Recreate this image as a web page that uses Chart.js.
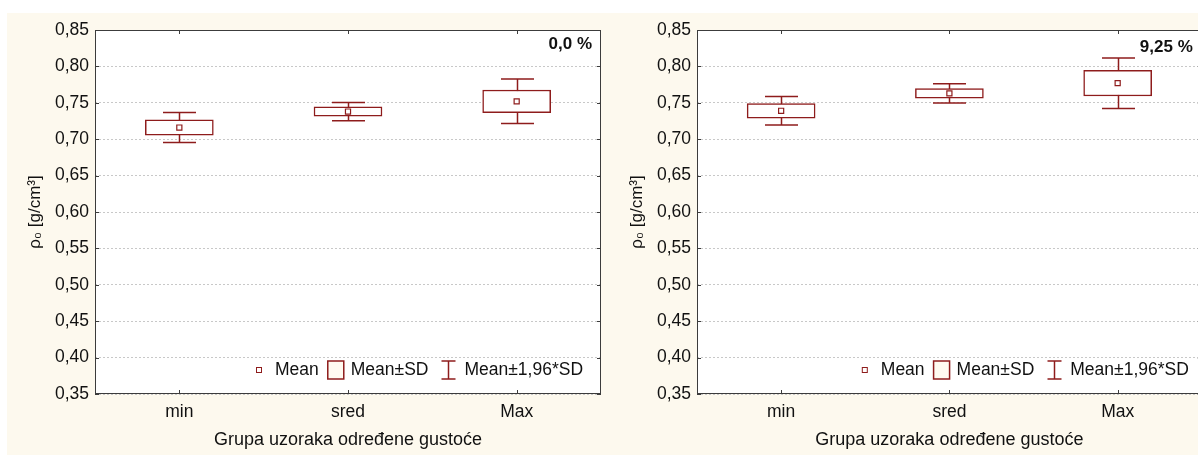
<!DOCTYPE html>
<html>
<head>
<meta charset="utf-8">
<script src="https://cdn.jsdelivr.net/npm/chart.js@4.4.1/dist/chart.umd.min.js"></script>
<style>
html,body{margin:0;padding:0;background:#ffffff;width:1198px;height:455px;overflow:hidden;position:relative;}
#bg{position:absolute;left:7px;top:13px;width:1191px;height:442px;background:#fdf9ee;}
.wrap{position:absolute;top:13px;height:442px;width:600px;}
#w1{left:7px;}
#w2{left:607px;}
canvas{display:block;}
</style>
</head>
<body>
<div id="bg"></div>
<div class="wrap" id="w1"><canvas id="c1" width="600" height="442"></canvas></div>
<div class="wrap" id="w2"><canvas id="c2" width="600" height="442"></canvas></div>
<script>
// ---- data ----
const categories = ['min', 'sred', 'Max'];
const meanLeft = [0.716, 0.738, 0.752];
const sdLeft = [0.0105, 0.0064, 0.0156];
const meanRight = [0.739, 0.763, 0.777];
const sdRight = [0.0100, 0.0067, 0.0177];
const annotationLeft = '0,0 %';
const annotationRight = '9,25 %';
const legendLabels = ['Mean', 'Mean±SD', 'Mean±1,96*SD'];
const yMin = 0.35, yMax = 0.85, yStep = 0.05;
const zFactor = 1.96;
const xTitle = 'Grupa uzoraka određene gustoće';
const yTitle = 'ρ₀ [g/cm³]';

const RED = '#8e1c1c';
const FONT = '"Liberation Sans", Arial, sans-serif';
Chart.defaults.font.family = FONT;
Chart.defaults.color = '#111111';

const decor = {
  id: 'decor',
  beforeDraw(chart) {
    const {ctx, chartArea: ca} = chart;
    ctx.save();
    ctx.fillStyle = '#ffffff';
    ctx.fillRect(ca.left, ca.top, ca.right - ca.left, ca.bottom - ca.top);
    ctx.restore();
  },
  beforeDatasetsDraw(chart, args, opts) {
    const {ctx, scales: {x, y}} = chart;
    ctx.save();
    ctx.strokeStyle = RED;
    ctx.lineWidth = 1.5;
    opts.mean.forEach((m, i) => {
      const px = Math.round(x.getPixelForValue(i)) + 0.5;
      const hi = y.getPixelForValue(m + zFactor * opts.sd[i]);
      const lo = y.getPixelForValue(m - zFactor * opts.sd[i]);
      ctx.beginPath();
      ctx.moveTo(px, hi); ctx.lineTo(px, lo);
      ctx.moveTo(px - 16.5, hi); ctx.lineTo(px + 16.5, hi);
      ctx.moveTo(px - 16.5, lo); ctx.lineTo(px + 16.5, lo);
      ctx.stroke();
    });
    ctx.restore();
  },
  afterDraw(chart, args, opts) {
    const {ctx, chartArea: ca, scales: {x, y}} = chart;
    ctx.save();
    // frame
    ctx.strokeStyle = '#3c3c3c';
    ctx.lineWidth = 1;
    ctx.strokeRect(Math.round(ca.left) + 0.5, Math.round(ca.top) + 0.5,
                   Math.round(ca.right - ca.left) - 1, Math.round(ca.bottom - ca.top) - 1);
    // inner ticks
    ctx.beginPath();
    y.ticks.forEach(t => {
      const py = Math.round(y.getPixelForValue(t.value)) + 0.5;
      ctx.moveTo(ca.left, py); ctx.lineTo(ca.left + 4, py);
      ctx.moveTo(ca.right, py); ctx.lineTo(ca.right - 4, py);
    });
    categories.forEach((c, i) => {
      const px = Math.round(x.getPixelForValue(i)) + 0.5;
      ctx.moveTo(px, ca.bottom); ctx.lineTo(px, ca.bottom - 4);
      ctx.moveTo(px, ca.top); ctx.lineTo(px, ca.top + 4);
    });
    ctx.stroke();

    // annotation
    ctx.fillStyle = '#111111';
    ctx.font = 'bold 17px ' + FONT;
    ctx.textAlign = 'right';
    ctx.textBaseline = 'middle';
    ctx.fillText(opts.annotation, ca.right - 9, ca.top + opts.annY);

    // legend
    const lx = ca.right - opts.legendOffset;
    const ly = ca.bottom - 24;
    ctx.font = '17.5px ' + FONT;
    ctx.textAlign = 'left';
    ctx.strokeStyle = RED;
    ctx.lineWidth = 1;
    ctx.fillStyle = '#ffffff';
    ctx.fillRect(lx - 2.5, ly - 2.5, 5, 5);
    ctx.strokeRect(lx - 2.5, ly - 2.5, 5, 5);
    let tx = lx + 16;
    ctx.fillStyle = '#111111';
    ctx.fillText(legendLabels[0], tx, ly);
    tx += ctx.measureText(legendLabels[0]).width + 9;
    ctx.fillStyle = '#fffaf0';
    ctx.lineWidth = 1.5;
    ctx.fillRect(tx, ly - 9, 16, 18);
    ctx.strokeRect(tx, ly - 9, 16, 18);
    tx += 16 + 7;
    ctx.fillStyle = '#111111';
    ctx.fillText(legendLabels[1], tx, ly);
    tx += ctx.measureText(legendLabels[1]).width + 13;
    const wx = Math.round(tx + 7) + 0.5;
    ctx.beginPath();
    ctx.moveTo(wx, ly - 9); ctx.lineTo(wx, ly + 9);
    ctx.moveTo(wx - 7, ly - 9); ctx.lineTo(wx + 7, ly - 9);
    ctx.moveTo(wx - 7, ly + 9); ctx.lineTo(wx + 7, ly + 9);
    ctx.stroke();
    tx += 14 + 9;
    ctx.fillText(legendLabels[2], tx, ly);
    ctx.restore();
  }
};

function makeChart(id, mean, sd, cfg) {
  return new Chart(document.getElementById(id), {
    data: {
      labels: categories,
      datasets: [
        {
          type: 'bar',
          data: mean.map((m, i) => [m - sd[i], m + sd[i]]),
          backgroundColor: '#ffffff',
          borderColor: RED,
          borderWidth: 1.5,
          borderSkipped: false,
          barThickness: 68,
          order: 2
        },
        {
          type: 'line',
          data: mean,
          showLine: false,
          pointStyle: 'rect',
          pointRadius: 3.6,
          pointBorderWidth: 1.2,
          pointBackgroundColor: '#ffffff',
          pointBorderColor: RED,
          order: 1
        }
      ]
    },
    options: {
      responsive: false,
      animation: false,
      events: [],
      layout: {padding: {top: 17, right: cfg.padRight, left: 0, bottom: 0}},
      plugins: {
        legend: {display: false},
        tooltip: {enabled: false},
        decor: {mean: mean, sd: sd, annotation: cfg.annotation, annY: cfg.annY, legendOffset: cfg.legendOffset}
      },
      scales: {
        x: {
          type: 'category',
          offset: true,
          grid: {display: false, drawTicks: false},
          border: {display: false},
          ticks: {padding: 8, font: {size: 17.5}, color: '#111111'},
          title: {display: true, text: xTitle, font: {size: 18}, color: '#111111', padding: {top: 0, bottom: 4}},
          afterFit: s => { s.height = 61; }
        },
        y: {
          min: yMin,
          max: yMax,
          grid: {color: '#c8c8c8', lineWidth: 1, drawTicks: false},
          border: {display: false, dash: [2, 2]},
          ticks: {
            stepSize: yStep,
            padding: 6,
            font: {size: 17.5},
            color: '#111111',
            callback: v => Number(v).toFixed(2).replace('.', ',')
          },
          title: {display: true, text: yTitle, font: {size: 17}, color: '#111111', padding: {top: cfg.yTitlePad, bottom: 0}},
          afterFit: s => { s.width = cfg.yWidth; }
        }
      }
    },
    plugins: [decor]
  });
}

makeChart('c1', meanLeft, sdLeft, {padRight: 6, yWidth: 88, yTitlePad: 18, annotation: annotationLeft, annY: 14, legendOffset: 342});
makeChart('c2', meanRight, sdRight, {padRight: 4, yWidth: 90, yTitlePad: 20, annotation: annotationRight, annY: 17, legendOffset: 337});
</script>
</body>
</html>
